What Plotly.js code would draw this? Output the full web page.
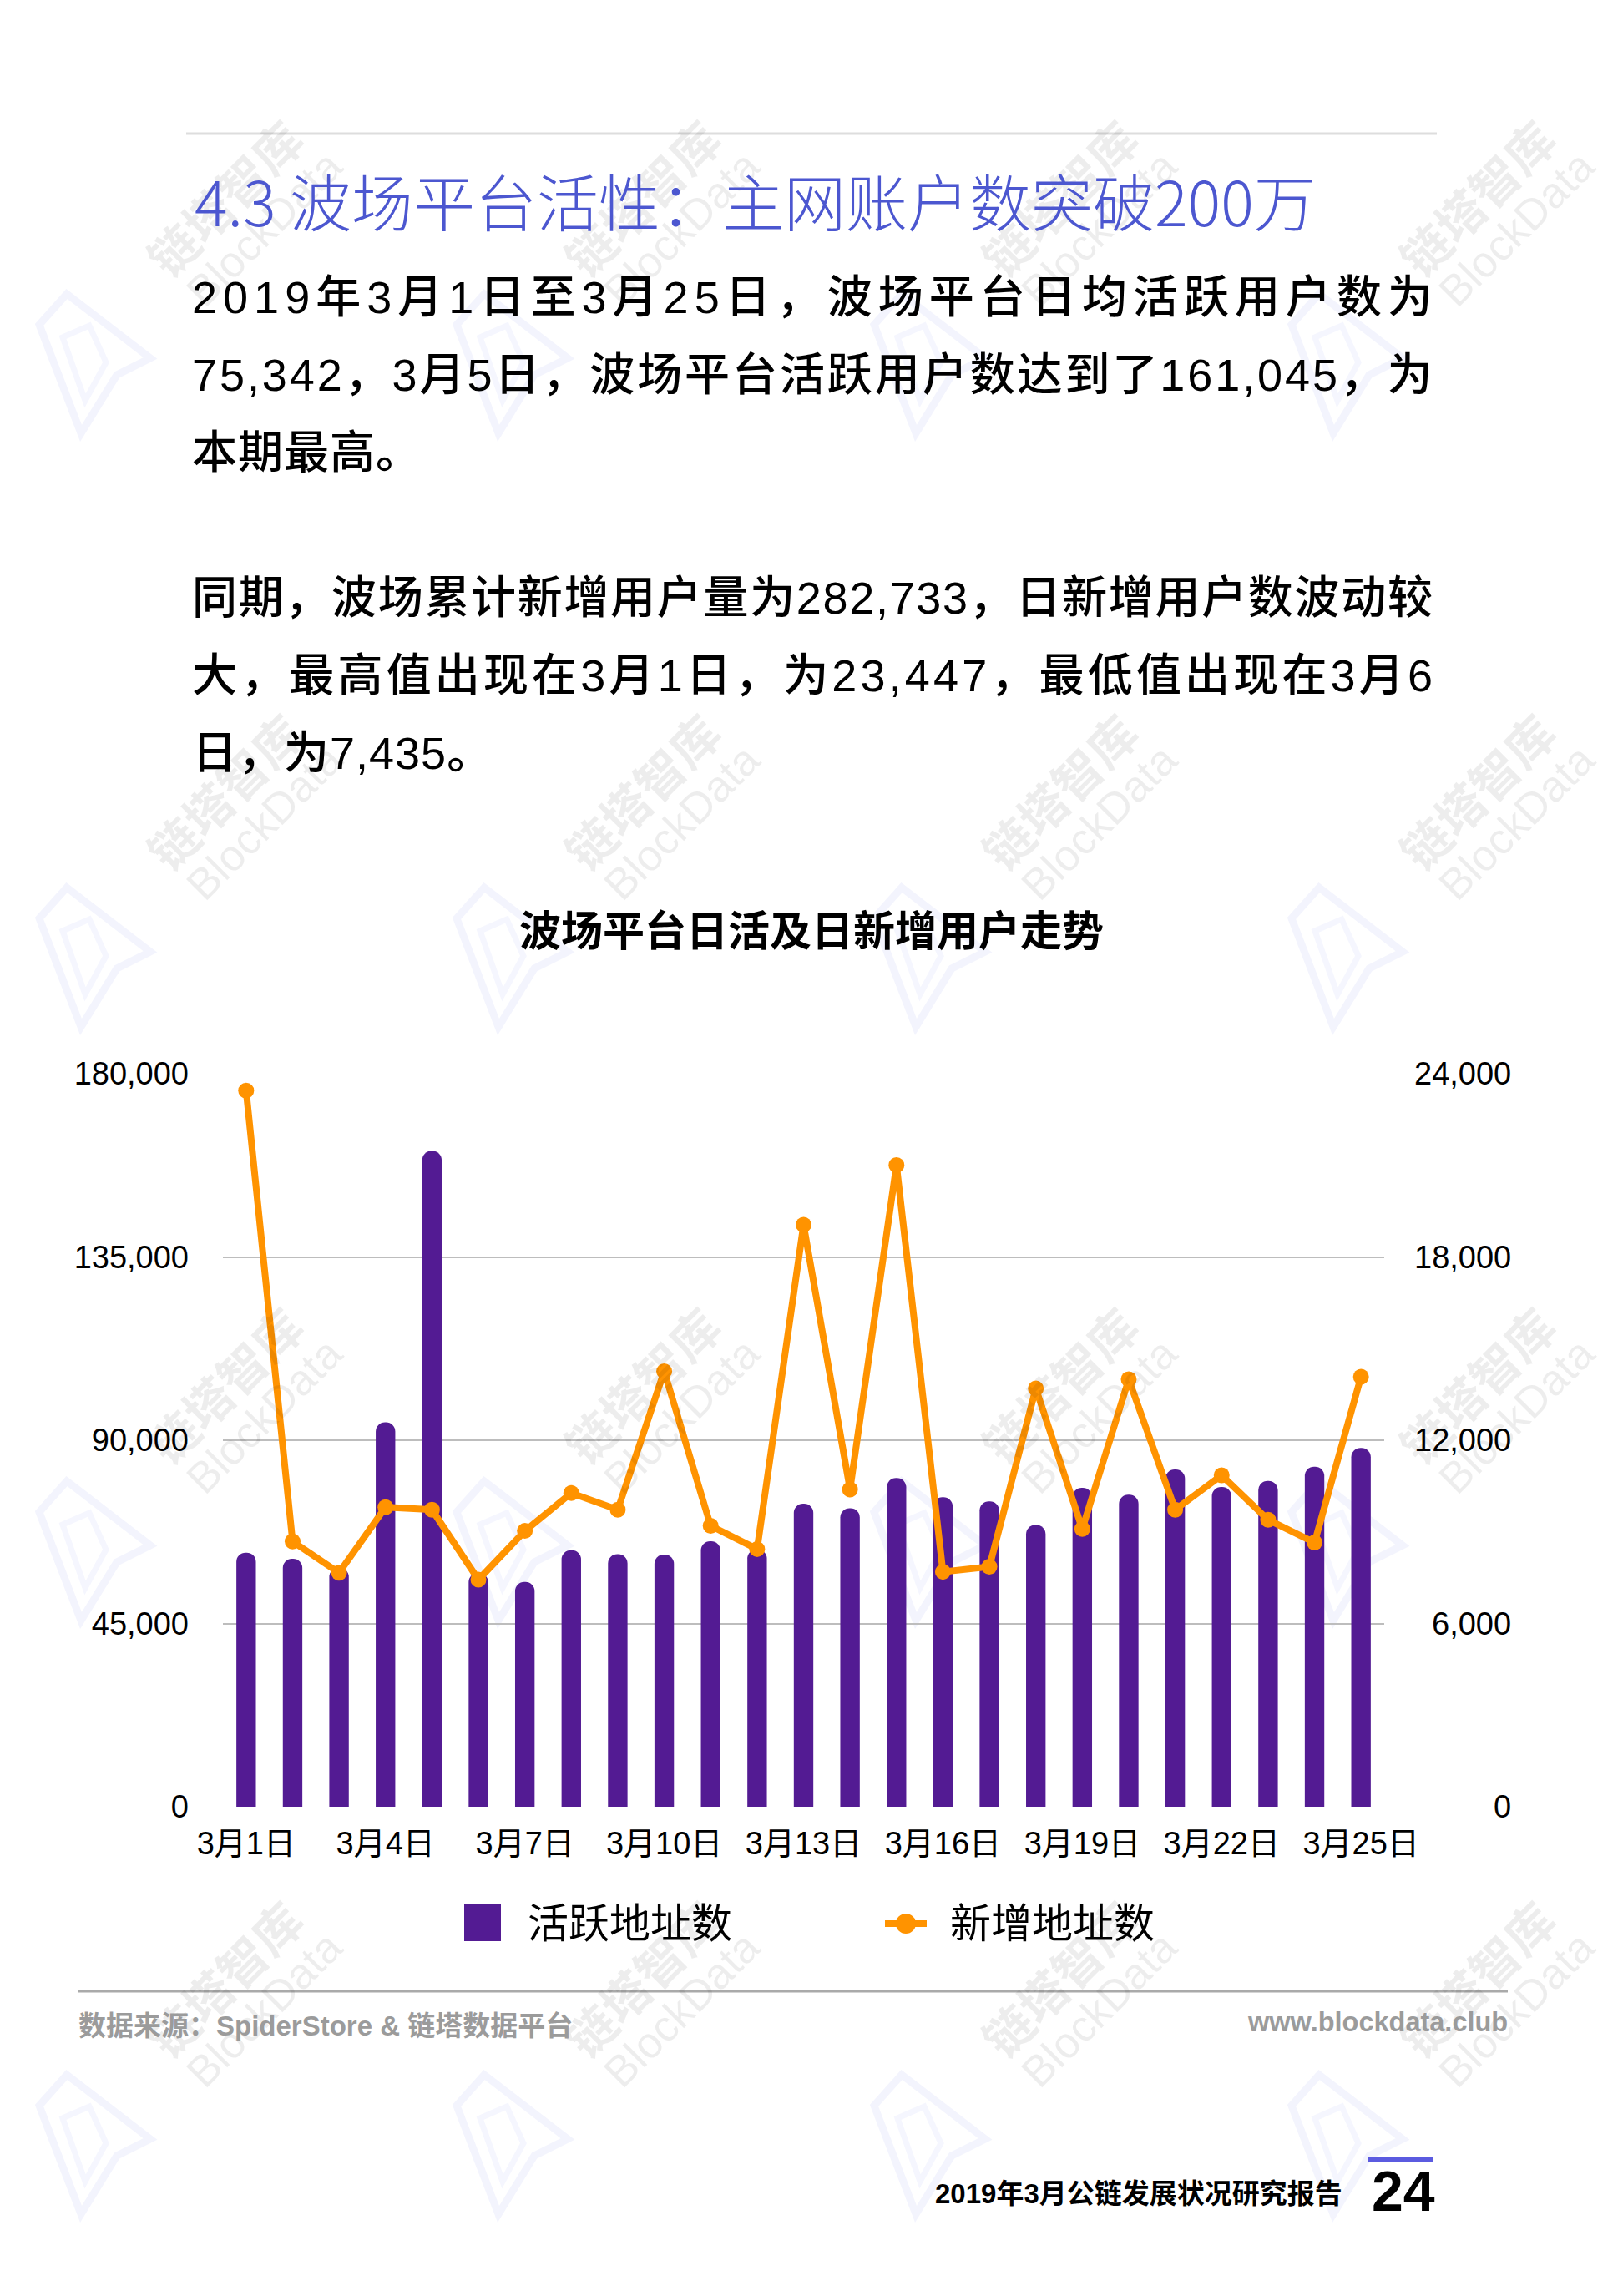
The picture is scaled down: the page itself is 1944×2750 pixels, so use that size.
<!DOCTYPE html>
<html>
<head>
<meta charset="utf-8">
<script src="https://cdn.plot.ly/plotly-3.0.1.min.js"></script>
<style>
  html, body { margin: 0; padding: 0; background: #ffffff; }
  #chart { width: 1944px; height: 2750px; }
</style>
</head>
<body>
<div id="chart"></div>
<script>
// ---------- data ----------
const dates = ['3月1日','3月2日','3月3日','3月4日','3月5日','3月6日','3月7日','3月8日','3月9日','3月10日',
               '3月11日','3月12日','3月13日','3月14日','3月15日','3月16日','3月17日','3月18日','3月19日','3月20日',
               '3月21日','3月22日','3月23日','3月24日','3月25日'];
const activeAddresses = [62400, 60900, 58700, 94400, 161045, 57400, 55200, 63000, 62000, 61900,
                         65200, 63200, 74400, 73300, 80700, 76000, 75000, 69200, 78300, 76600,
                         82800, 78500, 80000, 83500, 88100];
const newAddresses = [23447, 8684, 7658, 9808, 9726, 7435, 9031, 10272, 9726, 14258,
                      9197, 8436, 19055, 10387, 21006, 7691, 7857, 13695, 9097, 13993,
                      9726, 10851, 9395, 8651, 14076];
const xTickLabels = ['3月1日','3月4日','3月7日','3月10日','3月13日','3月16日','3月19日','3月22日','3月25日'];
const leftTicks = [0, 45000, 90000, 135000, 180000];
const rightTicks = [0, 6000, 12000, 18000, 24000];
const seriesNames = ['活跃地址数', '新增地址数'];

const pageTitle = '4.3 波场平台活性：主网账户数突破200万';
const para1 = ['2019年3月1日至3月25日，波场平台日均活跃用户数为',
               '75,342，3月5日，波场平台活跃用户数达到了161,045，为',
               '本期最高。'];
const para2 = ['同期，波场累计新增用户量为282,733，日新增用户数波动较',
               '大，最高值出现在3月1日，为23,447，最低值出现在3月6',
               '日，为7,435。'];
const chartTitle = '波场平台日活及日新增用户走势';
const sourceText = '数据来源：SpiderStore & 链塔数据平台';
const siteText = 'www.blockdata.club';
const reportText = '2019年3月公链发展状况研究报告';
const pageNumber = '24';

// ---------- helpers (pixel -> paper) ----------
const W = 1944, H = 2750;
const PX = x => x / W;
const PY = y => 1 - y / H;
const FONT = 'Liberation Sans, "Noto Sans CJK SC", sans-serif';
const PURPLE = '#531B93';
const ORANGE = '#FF9300';
const fmt = v => v.toLocaleString('en-US');

const annotations = [];
const spacing = {}; // index -> {justify: width} or {track: px}
function addText(text, x, y, opts, sp) {
  const a = Object.assign({
    text: text, x: PX(x), y: PY(y), xref: 'paper', yref: 'paper',
    showarrow: false, xanchor: 'left', yanchor: 'middle', align: 'left',
    font: { family: FONT, size: 40, color: '#000' }
  }, opts);
  annotations.push(a);
  if (sp) spacing[annotations.length - 1] = sp;
}

// watermarks
const wmCols = [268, 768, 1268, 1768];
const wmRows = [236, 947, 1658, 2369];
wmRows.forEach(ry => wmCols.forEach(cx => {
  addText('链塔智库', cx, ry, { xanchor: 'center', align: 'center', textangle: -45,
    font: { family: '"Noto Sans CJK SC", sans-serif', size: 58, color: 'rgba(0,0,0,0.07)', weight: 700 } });
  addText('BlockData', cx + 48, ry + 38, { xanchor: 'center', align: 'center', textangle: -45,
    font: { family: 'Liberation Sans, sans-serif', size: 52, color: 'rgba(0,0,0,0.07)' } });
}));

// page title
addText(pageTitle, 231, 238, { font: { family: '"Noto Sans CJK SC", sans-serif', size: 74, color: '#4C57D0', weight: 300 } });

// paragraphs
const BODY = { family: FONT, size: 54, color: '#000', weight: 500 };
const p1y = [356, 449, 542], p2y = [716, 809, 902];
para1.forEach((t, i) => addText(t, 228, p1y[i], { font: BODY }, i < 2 ? { justify: 1486 } : { track: 1 }));
para2.forEach((t, i) => addText(t, 228, p2y[i], { font: BODY }, i < 2 ? { justify: 1486 } : { track: 1 }));

// chart title
addText(chartTitle, 972, 1111, { xanchor: 'center', align: 'center',
  font: { family: '"Noto Sans CJK SC", sans-serif', size: 50, color: '#000', weight: 700 } });

// right axis tick labels (right-aligned, positioned on y2 scale)
rightTicks.forEach(v => annotations.push({
  text: fmt(v), x: PX(1812), xref: 'paper', y: v, yref: 'y2', xanchor: 'right', yanchor: 'middle',
  showarrow: false, font: { family: FONT, size: 38, color: '#000' }
}));

// legend texts
addText(seriesNames[0], 630, 2304, { font: { family: FONT, size: 49, color: '#000' } });
addText(seriesNames[1], 1136, 2304, { font: { family: FONT, size: 49, color: '#000' } });

// footer
addText(sourceText, 92, 2426, { font: { family: FONT, size: 33, color: '#9B9B9B', weight: 700 } });
addText(siteText, 1808, 2422, { xanchor: 'right', align: 'right', font: { family: FONT, size: 32.5, color: '#9B9B9B', weight: 700 } });
addText(reportText, 1610, 2627, { xanchor: 'right', align: 'right', font: { family: FONT, size: 33, color: '#000', weight: 700 } });
addText(pageNumber, 1641, 2624, { font: { family: FONT, size: 68, color: '#000', weight: 700 } });

// ---------- shapes ----------
const shapes = [];
shapes.push({ type: 'line', xref: 'paper', yref: 'paper', x0: PX(223), x1: PX(1721), y0: PY(160), y1: PY(160), line: { color: '#DDDDDD', width: 3 } });
shapes.push({ type: 'line', xref: 'paper', yref: 'paper', x0: PX(94), x1: PX(1806), y0: PY(2385), y1: PY(2385), line: { color: '#AAAAAA', width: 3 } });
shapes.push({ type: 'rect', xref: 'paper', yref: 'paper', x0: PX(1639), x1: PX(1716), y0: PY(2583), y1: PY(2590), fillcolor: '#5B5BE0', line: { width: 0 } });
shapes.push({ type: 'rect', xref: 'paper', yref: 'paper', x0: PX(556), x1: PX(600), y0: PY(2281), y1: PY(2325), fillcolor: PURPLE, line: { width: 0 } });
shapes.push({ type: 'line', xref: 'paper', yref: 'paper', x0: PX(1060), x1: PX(1110), y0: PY(2304), y1: PY(2304), line: { color: ORANGE, width: 8 } });
shapes.push({ type: 'circle', xref: 'paper', yref: 'paper', x0: PX(1073), x1: PX(1097), y0: PY(2316), y1: PY(2292), fillcolor: ORANGE, line: { width: 0 } });
// faint logo watermarks
const logoX = [47, 547, 1047, 1547], logoY = [352, 1063, 1774, 2485];
logoY.forEach(oy => logoX.forEach(ox => {
  const pts = [[0,37],[50,167],[93,97],[133,77],[33,0]];
  const inner = [[28,52],[55,128],[80,82],[60,38]];
  const toPath = arr => 'M' + arr.map(p => PX(ox + p[0]).toFixed(5) + ',' + PY(oy + p[1]).toFixed(5)).join(' L') + ' Z';
  shapes.push({ type: 'path', xref: 'paper', yref: 'paper', path: toPath(pts), line: { color: 'rgba(90,100,230,0.07)', width: 9 }, layer: 'below' });
  shapes.push({ type: 'path', xref: 'paper', yref: 'paper', path: toPath(inner), line: { color: 'rgba(90,100,230,0.06)', width: 7 }, layer: 'below' });
}));

// ---------- traces ----------
const data = [
  { type: 'bar', name: seriesNames[0], x: dates, y: activeAddresses, yaxis: 'y',
    width: 0.42, marker: { color: PURPLE, cornerradius: 12, line: { width: 0 } }, hoverinfo: 'skip' },
  { type: 'scatter', mode: 'lines+markers', name: seriesNames[1], x: dates, y: newAddresses, yaxis: 'y2',
    line: { color: ORANGE, width: 8 }, marker: { color: ORANGE, size: 19 }, hoverinfo: 'skip' }
];

const layout = {
  width: W, height: H,
  margin: { l: 0, r: 0, t: 0, b: 0 },
  paper_bgcolor: '#ffffff', plot_bgcolor: 'rgba(0,0,0,0)',
  showlegend: false,
  font: { family: FONT, color: '#000' },
  xaxis: {
    domain: [267 / W, 1658 / W], type: 'category', categoryarray: dates,
    range: [-0.5, dates.length - 0.5], autorange: false,
    tickmode: 'array', tickvals: xTickLabels, ticktext: xTickLabels,
    showgrid: false, zeroline: false, showline: false, ticks: '',
    ticklabelstandoff: 18,
    tickfont: { family: FONT, size: 38, color: '#000' }
  },
  yaxis: {
    domain: [1 - 2164 / H, 1 - 1286 / H], range: [0, 180000],
    tickmode: 'array', tickvals: leftTicks, ticktext: leftTicks.map(fmt),
    showgrid: true, gridcolor: '#BDBDBD', gridwidth: 2, zeroline: false, showline: false, ticks: '',
    ticklabelstandoff: 40,
    tickfont: { family: FONT, size: 38, color: '#000' }
  },
  yaxis2: {
    overlaying: 'y', side: 'right', range: [0, 24000],
    tickvals: rightTicks, showticklabels: false, showgrid: false, zeroline: false, showline: false, ticks: ''
  },
  annotations: annotations,
  shapes: shapes
};

Plotly.newPlot('chart', data, layout, { staticPlot: true, displayModeBar: false }).then(gd => {
  gd.querySelectorAll('g.annotation').forEach(g => {
    const idx = +g.getAttribute('data-index');
    const sp = spacing[idx];
    if (!sp) return;
    const t = g.querySelector('text.annotation-text');
    if (!t) return;
    const n = t.textContent.length;
    if (sp.justify) {
      const w = t.getComputedTextLength();
      const ls = (sp.justify - w) / (n - 1);
      t.style.letterSpacing = ls.toFixed(2) + 'px';
    } else if (sp.track) {
      t.style.letterSpacing = sp.track + 'px';
    }
  });
});
</script>
</body>
</html>
